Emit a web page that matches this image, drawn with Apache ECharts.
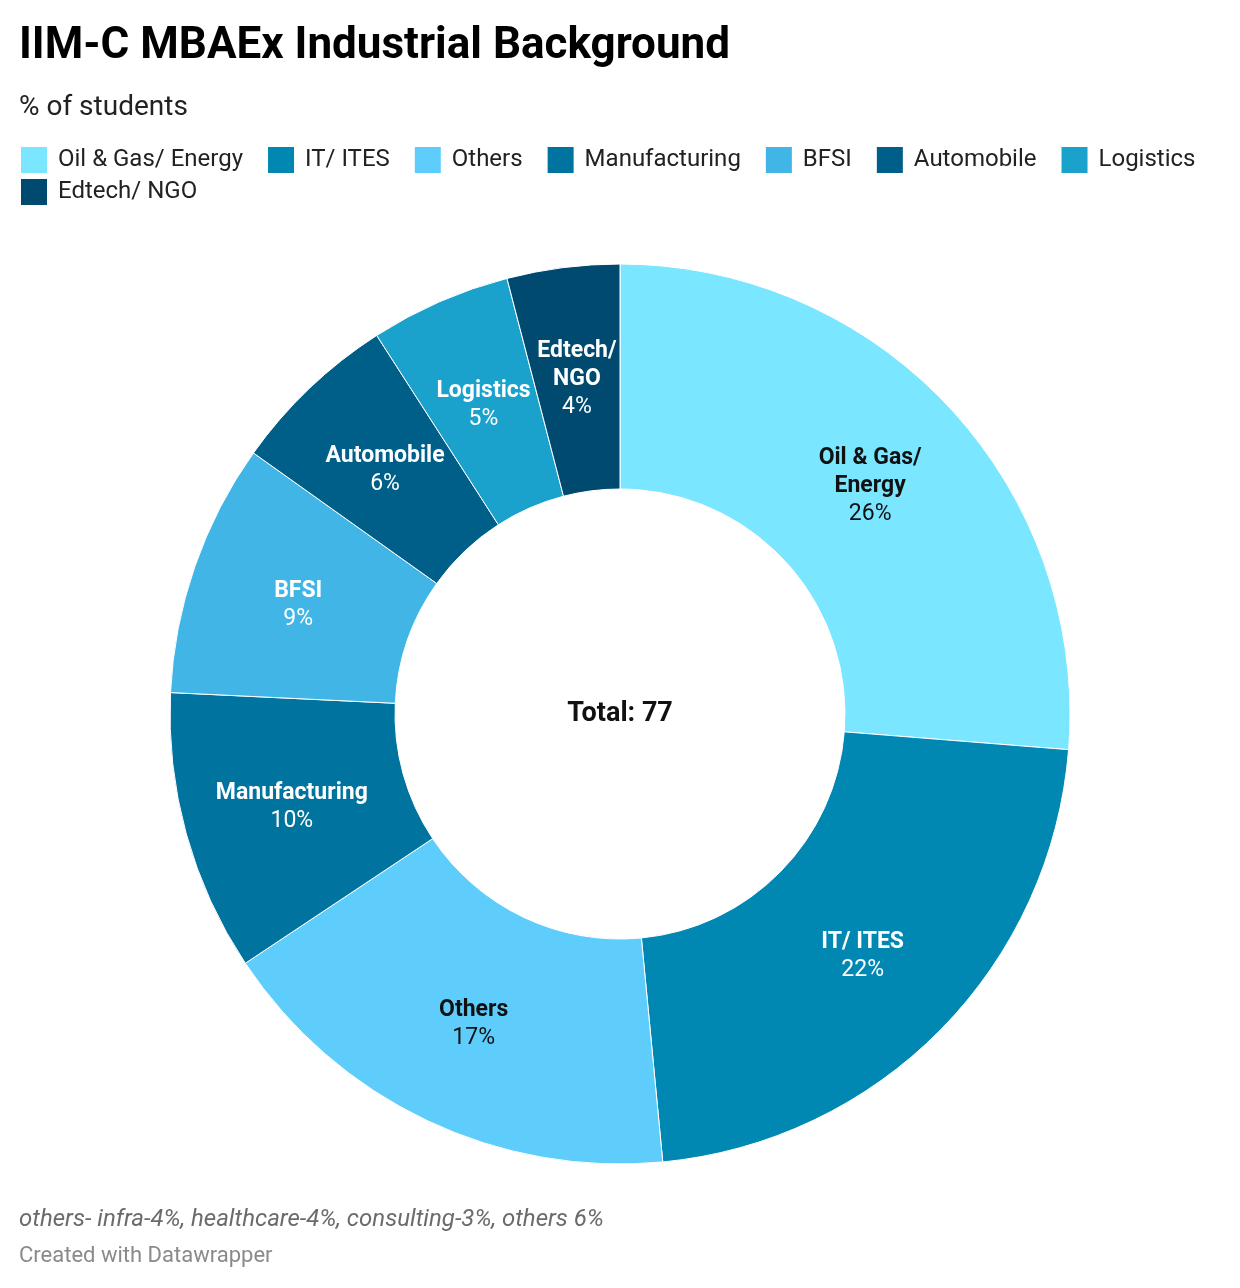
<!DOCTYPE html>
<html>
<head>
<meta charset="utf-8">
<script src="https://cdn.jsdelivr.net/npm/echarts@6/dist/echarts.min.js"></script>
<style>
html,body{margin:0;padding:0;background:#fff;}
#chart{width:1240px;height:1288px;}
</style>
</head>
<body>
<div id="chart"></div>
<script>
// ---- data ----
const categories = ['Oil & Gas/ Energy', 'IT/ ITES', 'Others', 'Manufacturing', 'BFSI', 'Automobile', 'Logistics', 'Edtech/ NGO'];
const percents = [26, 22, 17, 10, 9, 6, 5, 4];
const sliceLabels = ['Oil & Gas/\nEnergy', 'IT/ ITES', 'Others', 'Manufacturing', 'BFSI', 'Automobile', 'Logistics', 'Edtech/\nNGO'];
const totalLabel = 'Total: 77';
const titleText = 'IIM-C MBAEx Industrial Background';
const subtitleText = '% of students';
const noteText = 'others- infra-4%, healthcare-4%, consulting-3%, others 6%';
const creditText = 'Created with Datawrapper';
const legendRow1 = categories.slice(0, 7);
const legendRow2 = categories.slice(7);

// ---- styles ----
const colors = ['#7ae6ff', '#0088b3', '#5ecdfc', '#00739f', '#41b6e6', '#005f88', '#1aa1cc', '#004a70'];
const labelColors = ['#111', '#fff', '#111', '#fff', '#fff', '#fff', '#fff', '#fff'];
const FONT = 'Roboto, "Noto Sans", sans-serif';

const chart = echarts.init(document.getElementById('chart'), null, {renderer: 'canvas'});

const data = categories.map((c, i) => ({
  name: c,
  value: percents[i],
  itemStyle: {color: colors[i]},
  label: {
    color: labelColors[i],
    formatter: p => '{n|' + sliceLabels[p.dataIndex].split('\n').join('}\n{n|') + '}\n{p|' + p.value + '%}',
    rich: {
      n: {fontFamily: FONT, fontWeight: 'bold', fontSize: 23, lineHeight: 28, color: labelColors[i]},
      p: {fontFamily: FONT, fontSize: 23, lineHeight: 28, color: labelColors[i]}
    }
  }
}));

const legendBase = {
  type: 'plain',
  left: 19,
  width: 1215,
  padding: 0,
  icon: 'rect',
  itemWidth: 28,
  itemHeight: 28,
  itemGap: 23,
  orient: 'horizontal',
  selectedMode: false,
  textStyle: {fontFamily: FONT, fontSize: 24, color: '#222', padding: [0, 0, 0, 5]}
};

chart.setOption({
  animation: false,
  color: colors,
  title: [
    {text: titleText, left: 14, top: 20, textStyle: {fontFamily: FONT, fontWeight: 'bold', fontSize: 44, color: '#000'}},
    {text: subtitleText, left: 14, top: 89, textStyle: {fontFamily: FONT, fontWeight: 'normal', fontSize: 28, color: '#222'}},
    {text: noteText, left: 14, top: 1203, textStyle: {fontFamily: FONT, fontStyle: 'italic', fontWeight: 'normal', fontSize: 24, color: '#6b6b6b'}},
    {text: creditText, left: 14, top: 1240, textStyle: {fontFamily: FONT, fontWeight: 'normal', fontSize: 22, color: '#8a8a8a'}}
  ],
  legend: [
    Object.assign({}, legendBase, {top: 145, data: legendRow1}),
    Object.assign({}, legendBase, {top: 177, data: legendRow2})
  ],
  graphic: [{
    type: 'text',
    left: 'center',
    top: 701,
    style: {text: totalLabel, font: 'bold 27px ' + FONT, fill: '#111'}
  }],
  series: [{
    type: 'pie',
    center: [620, 714],
    radius: [225, 450],
    startAngle: 90,
    clockwise: true,
    avoidLabelOverlap: false,
    itemStyle: {borderColor: '#fff', borderWidth: 1},
    label: {show: true, position: 'inside', align: 'center', offset: [0, 3]},
    labelLine: {show: false},
    emphasis: {disabled: true},
    data: data
  }]
});
</script>
</body>
</html>
